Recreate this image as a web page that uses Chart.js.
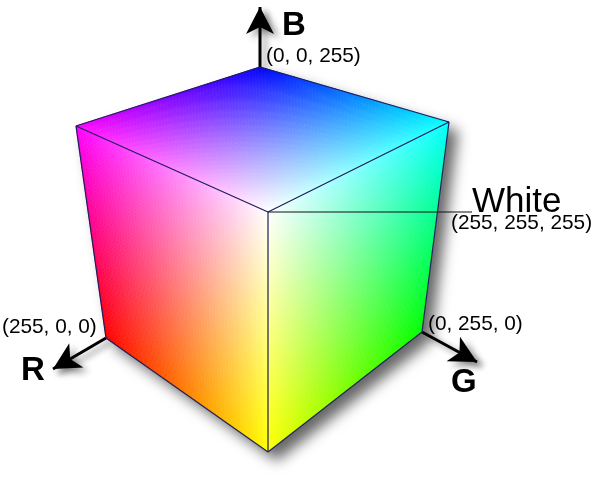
<!DOCTYPE html>
<html>
<head>
<meta charset="utf-8">
<script src="https://cdn.jsdelivr.net/npm/chart.js@4.4.0/dist/chart.umd.min.js"></script>
<style>
  html, body { margin: 0; padding: 0; background: #fff; }
  #wrap { width: 594px; height: 478px; position: relative; }
</style>
</head>
<body>
<div id="wrap"><canvas id="cube"></canvas></div>
<script>
// cube corners: name, rgb value, position (axis units)
const cornerNames = ['Blue', 'Magenta', 'Cyan', 'White', 'Red', 'Green', 'Yellow'];
const cornerRGB = [[0, 0, 255], [255, 0, 255], [0, 255, 255], [255, 255, 255], [255, 0, 0], [0, 255, 0], [255, 255, 0]];
const cornerX = [260, 76, 449, 268, 106, 422, 268];
const cornerY = [67, 126, 122, 212, 338, 332, 452];

// visible faces, as corner indexes going round each quad
const faceTop = [0, 2, 3, 1];
const faceLeft = [1, 3, 6, 4];
const faceRight = [3, 2, 5, 6];
const faces = [faceTop, faceLeft, faceRight];

// edges
const outlineEdges = [[1, 0], [0, 2], [2, 5], [5, 6], [6, 4], [4, 1]];
const innerEdges = [[3, 1], [3, 2], [3, 6]];

// axes: label, corner it starts from, tip
const axisNames = ['B', 'R', 'G'];
const axisFrom = [0, 4, 5];
const axisTipX = [260, 53, 477];
const axisTipY = [7, 369, 362];

// corner labels
const labelCorners = [0, 3, 4, 5];
const labelTexts = ['(0, 0, 255)', '(255, 255, 255)', '(255, 0, 0)', '(0, 255, 0)'];

function pt(i) { return { x: cornerX[i], y: cornerY[i] }; }

const datasets = [];
outlineEdges.concat(innerEdges).forEach(e => {
    datasets.push({ type: 'scatter', data: [pt(e[0]), pt(e[1])], showLine: true,
        borderColor: '#1d1d5c', borderWidth: 1.2, pointRadius: 0, clip: false });
});
// leader line for White
datasets.push({ type: 'scatter', data: [pt(3), { x: 472, y: cornerY[3] }], showLine: true,
    borderColor: '#111', borderWidth: 1.1, pointRadius: 0, clip: false });
// axis shafts
axisNames.forEach((n, i) => {
    datasets.push({ type: 'scatter', data: [pt(axisFrom[i]), { x: axisTipX[i], y: axisTipY[i] }], showLine: true,
        borderColor: '#000', borderWidth: 3, pointRadius: 0, clip: false, isAxis: i });
});

const cubePlugin = {
    id: 'cubePlugin',
    beforeDatasetsDraw(chart) {
        const ctx = chart.ctx;
        const xs = chart.scales.x, ys = chart.scales.y;
        const px = cornerX.map(v => xs.getPixelForValue(v));
        const py = cornerY.map(v => ys.getPixelForValue(v));

        // shadow of the whole cube silhouette
        ctx.save();
        ctx.shadowColor = 'rgba(0,0,0,0.6)';
        ctx.shadowBlur = 14;
        ctx.shadowOffsetX = 9;
        ctx.shadowOffsetY = 9;
        ctx.fillStyle = '#fff';
        ctx.beginPath();
        [1, 0, 2, 5, 6, 4].forEach((c, k) => k ? ctx.lineTo(px[c], py[c]) : ctx.moveTo(px[c], py[c]));
        ctx.closePath();
        ctx.fill();
        ctx.restore();

        // faces, bilinear blend of the corner colours
        const N = 60;
        faces.forEach(f => {
            const [a, b, c, d] = f;
            const P = (u, v) => ({
                x: (1 - u) * (1 - v) * px[a] + u * (1 - v) * px[b] + u * v * px[c] + (1 - u) * v * px[d],
                y: (1 - u) * (1 - v) * py[a] + u * (1 - v) * py[b] + u * v * py[c] + (1 - u) * v * py[d]
            });
            const C = (u, v) => [0, 1, 2].map(k => Math.round(
                (1 - u) * (1 - v) * cornerRGB[a][k] + u * (1 - v) * cornerRGB[b][k] +
                u * v * cornerRGB[c][k] + (1 - u) * v * cornerRGB[d][k]));
            for (let i = 0; i < N; i++) {
                for (let j = 0; j < N; j++) {
                    const u0 = i / N, u1 = (i + 1) / N, v0 = j / N, v1 = (j + 1) / N;
                    const p1 = P(u0, v0), p2 = P(u1, v0), p3 = P(u1, v1), p4 = P(u0, v1);
                    const col = C((u0 + u1) / 2, (v0 + v1) / 2);
                    const s = 'rgb(' + col.join(',') + ')';
                    ctx.fillStyle = s;
                    ctx.strokeStyle = s;
                    ctx.lineWidth = 0.6;
                    ctx.beginPath();
                    ctx.moveTo(p1.x, p1.y); ctx.lineTo(p2.x, p2.y);
                    ctx.lineTo(p3.x, p3.y); ctx.lineTo(p4.x, p4.y);
                    ctx.closePath();
                    ctx.fill();
                    ctx.stroke();
                }
            }
        });
    },
    beforeDatasetDraw(chart, args) {
        const ds = chart.data.datasets[args.index];
        chart.ctx.save();
        if (ds.isAxis !== undefined) {
            chart.ctx.shadowColor = 'rgba(0,0,0,0.45)';
            chart.ctx.shadowBlur = 6;
            chart.ctx.shadowOffsetX = 5;
            chart.ctx.shadowOffsetY = 4;
        }
    },
    afterDatasetDraw(chart) {
        chart.ctx.restore();
    },
    afterDatasetsDraw(chart) {
        const ctx = chart.ctx;
        const xs = chart.scales.x, ys = chart.scales.y;

        // arrow heads
        axisNames.forEach((n, i) => {
            const fx = xs.getPixelForValue(cornerX[axisFrom[i]]), fy = ys.getPixelForValue(cornerY[axisFrom[i]]);
            const tx = xs.getPixelForValue(axisTipX[i]), ty = ys.getPixelForValue(axisTipY[i]);
            const ang = Math.atan2(ty - fy, tx - fx);
            const len = 27, half = 14, notch = 20;
            ctx.save();
            ctx.translate(tx, ty);
            ctx.rotate(ang);
            ctx.shadowColor = 'rgba(0,0,0,0.45)';
            ctx.shadowBlur = 7;
            ctx.shadowOffsetX = 5;
            ctx.shadowOffsetY = 4;
            ctx.fillStyle = '#000';
            ctx.beginPath();
            ctx.moveTo(0, 0);
            ctx.lineTo(-len, half);
            ctx.lineTo(-notch, 0);
            ctx.lineTo(-len, -half);
            ctx.closePath();
            ctx.fill();
            ctx.restore();
        });

        ctx.save();
        ctx.fillStyle = '#000';
        ctx.textBaseline = 'alphabetic';
        ctx.textAlign = 'left';
        const X = v => xs.getPixelForValue(v), Y = v => ys.getPixelForValue(v);

        // axis letters
        ctx.font = 'bold 33px "Liberation Sans", Arial, sans-serif';
        const axisLabelPos = [[282, 35], [21, 380], [451, 392]];
        axisNames.forEach((n, i) => ctx.fillText(n, X(axisLabelPos[i][0]), Y(axisLabelPos[i][1])));

        // White
        ctx.font = '35px "Liberation Sans", Arial, sans-serif';
        ctx.fillText(cornerNames[3], X(472), Y(212));

        // corner values
        ctx.font = '20.8px "Liberation Sans", Arial, sans-serif';
        const labelPos = [[266, 62], [451, 229], [2, 333], [428, 330]];
        labelTexts.forEach((t, i) => ctx.fillText(t, X(labelPos[i][0]), Y(labelPos[i][1])));
        ctx.restore();
    }
};

new Chart(document.getElementById('cube'), {
    type: 'scatter',
    data: { datasets: datasets },
    options: {
        responsive: true,
        maintainAspectRatio: false,
        animation: false,
        layout: { padding: 0 },
        plugins: { legend: { display: false }, tooltip: { enabled: false } },
        scales: {
            x: { type: 'linear', min: 0, max: 594, display: false },
            y: { type: 'linear', min: 0, max: 478, reverse: true, display: false }
        }
    },
    plugins: [cubePlugin]
});
</script>
</body>
</html>
